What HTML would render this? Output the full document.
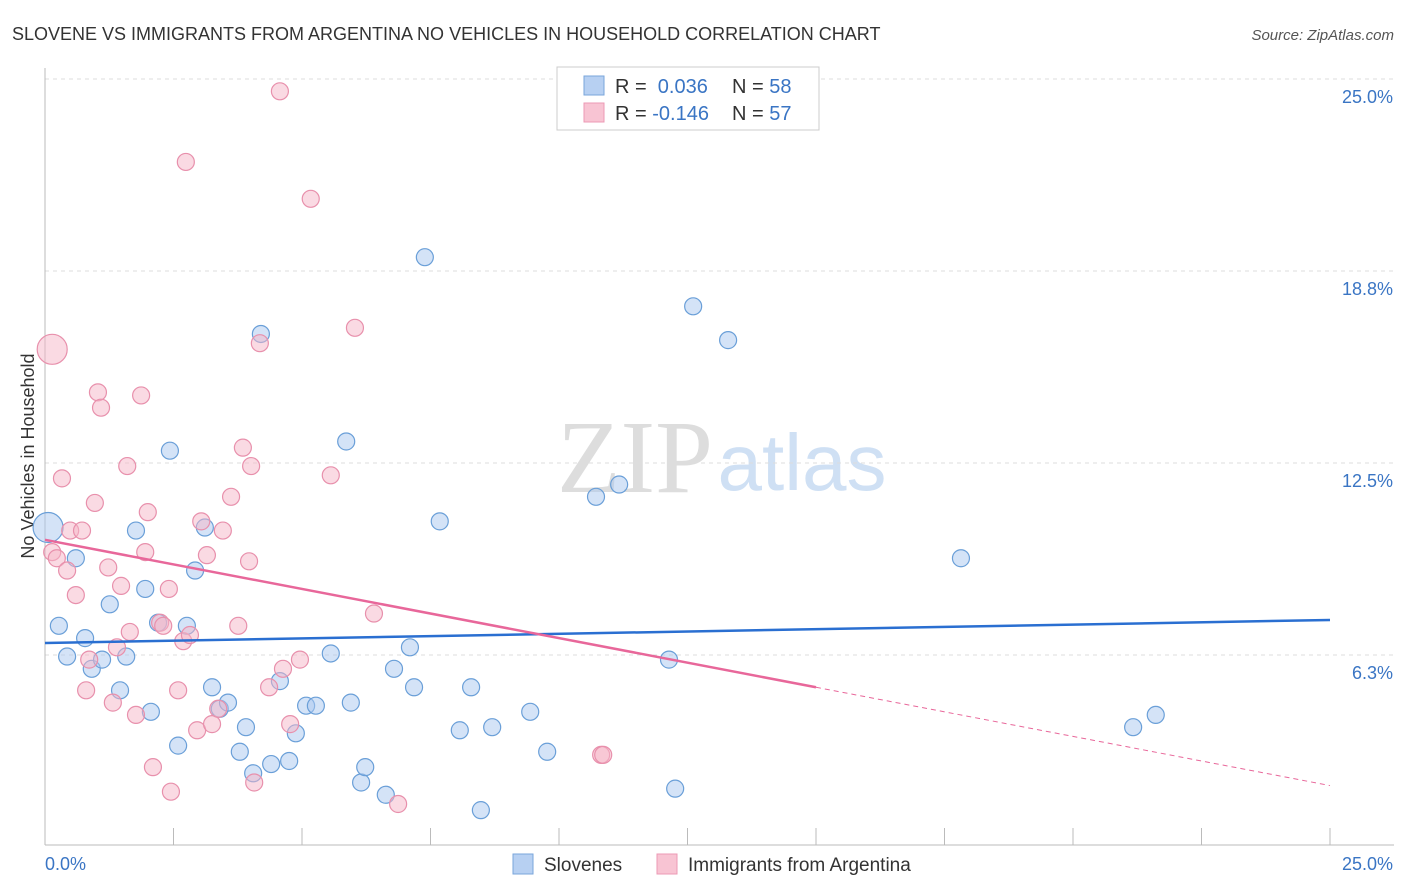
<!DOCTYPE html>
<html><head><meta charset="utf-8"><style>
body{margin:0;background:#fff;font-family:"Liberation Sans",sans-serif;}
svg{display:block}
</style></head><body>
<svg id="chart" width="1406" height="892" xmlns="http://www.w3.org/2000/svg">
<text x="12" y="40" font-size="18" fill="#333">SLOVENE VS IMMIGRANTS FROM ARGENTINA NO VEHICLES IN HOUSEHOLD CORRELATION CHART</text>
<text x="1394" y="40" font-size="15" fill="#555" font-style="italic" text-anchor="end">Source: ZipAtlas.com</text>
<text x="34" y="456" font-size="18" fill="#333" text-anchor="middle" transform="rotate(-90 34 456)">No Vehicles in Household</text>
<g>
<text x="635" y="492" font-size="104" fill="#ddd" font-family="Liberation Serif,serif" text-anchor="middle">ZIP</text>
<text x="802" y="490" font-size="80" fill="#cfe0f4" text-anchor="middle">atlas</text>
</g>
<g id="grid"></g><g id="axes"></g><g id="pts"></g><g id="trends"></g>
<g>
<rect x="557" y="67" width="262" height="63" fill="#fff" stroke="#ccc"/>
<rect x="584" y="76" width="20" height="19" fill="#b7d0f2" stroke="#7aa6db"/>
<rect x="584" y="103" width="20" height="19" fill="#f8c4d3" stroke="#ec9ab4"/>
<text x="615" y="93" font-size="20" fill="#333">R = <tspan fill="#3a75c4">&#160;0.036</tspan>   <tspan x="732">N = </tspan><tspan fill="#3a75c4">58</tspan></text>
<text x="615" y="120" font-size="20" fill="#333">R = <tspan fill="#3a75c4">-0.146</tspan>   <tspan x="732">N = </tspan><tspan fill="#3a75c4">57</tspan></text>
</g>
<g>
<rect x="513" y="854" width="20" height="20" fill="#b7d0f2" stroke="#7aa6db"/>
<text x="544" y="871" font-size="19" fill="#333">Slovenes</text>
<rect x="657" y="854" width="20" height="20" fill="#f8c4d3" stroke="#ec9ab4"/>
<text x="688" y="871" font-size="19" fill="#333">Immigrants from Argentina</text>
</g>
</svg>
<script>
const blueX=[0.06,0.27,0.43,0.60,0.78,0.91,1.11,1.26,1.46,1.58,1.77,1.95,2.06,2.20,2.43,2.59,2.76,2.92,3.11,3.25,3.40,3.56,3.79,3.91,4.05,4.20,4.40,4.57,4.75,4.88,5.08,5.27,5.56,5.86,5.95,6.15,6.23,6.63,6.79,7.10,7.18,7.39,7.68,8.07,8.29,8.48,8.70,9.44,9.77,10.72,11.17,12.14,12.26,12.61,13.29,17.82,21.17,21.61];
const blueY=[10.4,7.2,6.2,9.4,6.8,5.8,6.1,7.9,5.1,6.2,10.3,8.4,4.4,7.3,12.9,3.3,7.2,9.0,10.4,5.2,4.5,4.7,3.1,3.9,2.4,16.7,2.7,5.4,2.8,3.7,4.6,4.6,6.3,13.2,4.7,2.1,2.6,1.7,5.8,6.5,5.2,19.2,10.6,3.8,5.2,1.2,3.9,4.4,3.1,11.4,11.8,6.1,1.9,17.6,16.5,9.4,3.9,4.3];
const pinkX=[0.14,0.14,0.23,0.33,0.43,0.49,0.60,0.72,0.80,0.86,0.97,1.03,1.09,1.23,1.32,1.40,1.48,1.60,1.65,1.77,1.87,1.95,2.00,2.10,2.24,2.30,2.41,2.45,2.59,2.69,2.74,2.82,2.96,3.04,3.15,3.25,3.37,3.46,3.62,3.76,3.85,3.97,4.01,4.07,4.18,4.36,4.57,4.63,4.77,4.96,5.17,5.56,6.03,6.40,6.87,10.82,10.86];
const pinkY=[16.2,9.6,9.4,12.0,9.0,10.3,8.2,10.3,5.1,6.1,11.2,14.8,14.3,9.1,4.7,6.5,8.5,12.4,7.0,4.3,14.7,9.6,10.9,2.6,7.3,7.2,8.4,1.8,5.1,6.7,22.3,6.9,3.8,10.6,9.5,4.0,4.5,10.3,11.4,7.2,13.0,9.3,12.4,2.1,16.4,5.2,24.6,5.8,4.0,6.1,21.1,12.1,16.9,7.6,1.4,3.0,3.0];
const yTicks=[6.25,12.5,18.75,25];
const yTickLabels=["6.3%","12.5%","18.8%","25.0%"];
const xTickLabels=["0.0%","25.0%"];
const blueTrend=[6.64,0.03];
const pinkTrend=[10.0,-0.32];
const pinkSolidEnd=15;
const NS="http://www.w3.org/2000/svg";
const X=v=>45+v/25*1285, Y=v=>847-v/25*768;
function mk(t,a,p){const e=document.createElementNS(NS,t);for(const k in a)e.setAttribute(k,a[k]);p.appendChild(e);return e;}
const grid=document.getElementById('grid'),axes=document.getElementById('axes');
yTicks.forEach((t,i)=>{
 const l=mk('line',{x1:45,x2:1394,y1:Y(t),y2:Y(t),stroke:'#ddd','stroke-dasharray':'4,4'},grid);
 
 
 const tx=mk('text',{x:1393,y:Y(t)+24,'font-size':18,fill:'#3a75c4','text-anchor':'end'},axes);
 tx.textContent=yTickLabels[i];
 
 
});
const ya=mk('line',{x1:45,x2:45,y1:68,y2:845,stroke:'#bbb'},axes);


const xa=mk('line',{x1:45,x2:1394,y1:845,y2:845,stroke:'#bbb'},axes);


for(let i=0;i<=10;i++){const v=i*2.5;const t=mk('line',{x1:X(v),x2:X(v),y1:828,y2:845,stroke:'#bbb'},axes);
 
 }
[[0,45,'start'],[25,1393,'end']].forEach((d,i)=>{const t=mk('text',{x:d[1],y:870,'font-size':18,fill:'#3a75c4','text-anchor':d[2]},axes);t.textContent=xTickLabels[i];
 
 });
const pts=document.getElementById('pts');
function dots(xs,ys,fill,stroke,name){xs.forEach((x,i)=>{const big=(i===0);const c=mk('circle',{cx:X(x),cy:Y(ys[i]),r:big?15:8.5,fill:fill,'fill-opacity':0.5,stroke:stroke,'stroke-width':1.2},pts);
 
 });}
dots(blueX,blueY,'#aac8f0','#6a9fd8','slovene-point');
dots(pinkX,pinkY,'#f5b6c8','#e890ac','argentina-point');
const tr=document.getElementById('trends');
const bl=mk('line',{x1:X(0),y1:Y(blueTrend[0]),x2:X(25),y2:Y(blueTrend[0]+25*blueTrend[1]),stroke:'#2a6fd1','stroke-width':2.5},tr);


const pl=mk('line',{x1:X(0),y1:Y(pinkTrend[0]),x2:X(pinkSolidEnd),y2:Y(pinkTrend[0]+pinkSolidEnd*pinkTrend[1]),stroke:'#e8679a','stroke-width':2.5},tr);


const pd=mk('line',{x1:X(pinkSolidEnd),y1:Y(pinkTrend[0]+pinkSolidEnd*pinkTrend[1]),x2:X(25),y2:Y(pinkTrend[0]+25*pinkTrend[1]),stroke:'#e8679a','stroke-width':1,'stroke-dasharray':'5,4'},tr);


</script>
</body></html>
